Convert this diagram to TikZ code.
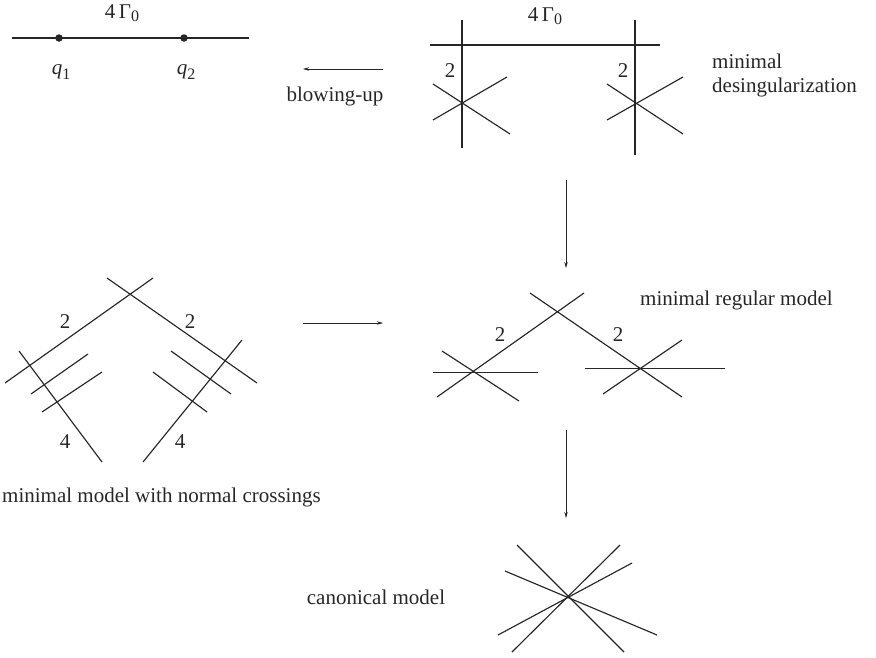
\documentclass[tikz,border=0pt]{standalone}
\usepackage{fontspec}
\setmainfont{Liberation Serif}
\usetikzlibrary{arrows.meta}
\begin{document}
\begin{tikzpicture}[x=1pt,y=-1pt,
  curve/.style={line width=1.15pt, black!85},
  lab/.style={font=\fontsize{21}{24}\selectfont, inner sep=0pt, text=black!85},
  mapto/.style={line width=0.8pt, black!85, -{Stealth[length=6pt,width=3.5pt]}},
  dot/.style={circle, fill=black!85, inner sep=0pt, minimum size=7.5pt}]
\newcommand{\sbs}[1]{\raisebox{-0.45ex}{\fontsize{16}{16}\selectfont #1}}
\useasboundingbox (0,0) rectangle (876,657);
% ---------- top left: blown-up curve
\coordinate (tlA) at (12,38);
\coordinate (tlB) at (249,38);
\draw[curve] (tlA) -- (tlB);
\node[dot] (q1) at (59,38) {};
\node[dot] (q2) at (184,38) {};
\node[lab] (g1) at (122,13) {4\,Γ\raisebox{-0.3ex}{\fontsize{16}{16}\selectfont 0}};
\node[lab] (q1l) at (61,72) {\textit{q}\sbs{1}};
\node[lab] (q2l) at (186,72) {\textit{q}\sbs{2}};
% arrow blowing-up
\coordinate (bu1) at (383,69);
\coordinate (bu2) at (303,69);
\draw[mapto] (bu1) -- (bu2);
\node[lab] (blow) at (335,96) {blowing-up};
% ---------- top right: minimal desingularization
\draw[curve] (430,45) -- (660,45);
\draw[curve] (462,20) -- (462,148);
\draw[curve] (635,20) -- (635,155);
\draw[curve] (433,84) -- (510,134);
\draw[curve] (433,120) -- (507,77);
\draw[curve] (607,84) -- (683,134);
\draw[curve] (607,120) -- (683,77);
\node[lab] (g2) at (545,16) {4\,Γ\raisebox{-0.3ex}{\fontsize{16}{16}\selectfont 0}};
\node[lab] (d2a) at (450,71) {2};
\node[lab] (d2b) at (623,71) {2};
\node[lab, align=left, anchor=west] (mindes) at (712,75) {minimal\\desingularization};
% arrow down 1
\coordinate (ad1) at (566,180);
\coordinate (ad2) at (566,268);
\draw[mapto] (ad1) -- (ad2);
% ---------- middle right: minimal regular model
\draw[curve] (530,293) -- (682,397);
\draw[curve] (584,293) -- (437,397);
\draw[curve] (433,372.5) -- (538,372.5);
\draw[curve] (442,351) -- (519,401);
\draw[curve] (585,368.5) -- (725,368.5);
\draw[curve] (682,340) -- (603,394);
\node[lab] (r2a) at (500,335) {2};
\node[lab] (r2b) at (618,335) {2};
\node[lab, anchor=west] (minreg) at (640,300) {minimal regular model};
% arrow left to right
\coordinate (ah1) at (303,323);
\coordinate (ah2) at (383,323);
\draw[mapto] (ah1) -- (ah2);
% ---------- middle left: normal crossings
\draw[curve] (107,278) -- (257,383);
\draw[curve] (153,278) -- (5,383);
\draw[curve] (31,394) -- (88,354);
\draw[curve] (42,412) -- (102,372);
\draw[curve] (19,351) -- (102,462);
\draw[curve] (171,351) -- (231,394);
\draw[curve] (153,372) -- (207,412);
\draw[curve] (242,340) -- (143,462);
\node[lab] (n2a) at (65,322) {2};
\node[lab] (n2b) at (190,322) {2};
\node[lab] (n4a) at (65,442) {4};
\node[lab] (n4b) at (180,442) {4};
\node[lab, anchor=west] (minnc) at (2,497) {minimal model with normal crossings};
% arrow down 2
\coordinate (ae1) at (566,430);
\coordinate (ae2) at (566,518);
\draw[mapto] (ae1) -- (ae2);
% ---------- bottom: canonical model
\draw[curve] (517,545) -- (624,652);
\draw[curve] (620,545) -- (512,652);
\draw[curve] (505,571) -- (657,635);
\draw[curve] (632,563) -- (498,635);
\node[lab] (can) at (376,597) {canonical model};
\end{tikzpicture}
\end{document}
